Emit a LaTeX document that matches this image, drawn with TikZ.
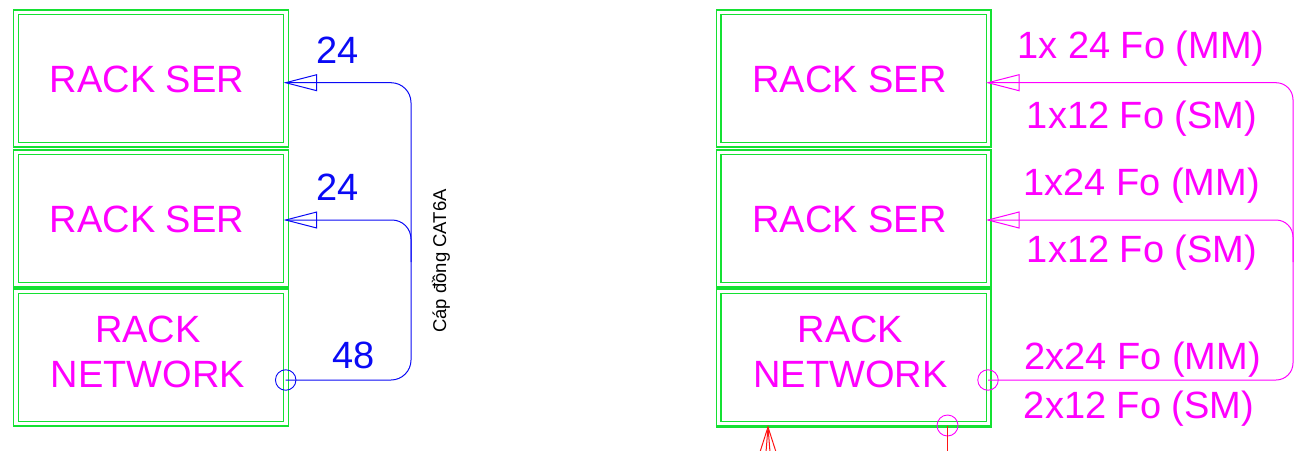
\documentclass[tikz,border=0pt]{standalone}
\usepackage{fontspec}
\setmainfont{Liberation Sans}
\usetikzlibrary{calc}
\definecolor{rackgreen}{RGB}{20,225,50}
\definecolor{cblue}{RGB}{10,10,245}
\definecolor{cmag}{RGB}{255,0,255}
\definecolor{cred}{RGB}{255,20,20}
\tikzset{
  rack/.style={draw=rackgreen, line width=1.4pt, double=white, double distance=3.2pt,
    minimum width=270pt, minimum height=132.4pt, inner sep=0pt},
  racktext/.style={text=cmag, font=\fontsize{38}{45}\selectfont, align=center, inner sep=0pt},
  bluelbl/.style={text=cblue, font=\fontsize{38}{45}\selectfont, inner sep=0pt, anchor=base},
  maglbl/.style={text=cmag, font=\fontsize{38}{45}\selectfont, inner sep=0pt, anchor=base},
  bluewire/.style={draw=cblue, line width=1pt},
  magwire/.style={draw=cmag, line width=1pt},
  endcirc/.style={circle, minimum size=20.5pt, inner sep=0pt, line width=0.9pt},
  redwire/.style={draw=cred, line width=1pt}
}
\begin{document}
\begin{tikzpicture}[x=1pt,y=-1pt]
\useasboundingbox (0,0) rectangle (1303,450);

% ---------- left column ----------
\node[rack] (L1) at (151,78.5) {};
\node[rack] (L2) at (151,218.5) {};
\node[rack] (L3) at (151,357.5) {};
\node[racktext] (tL1) at (147,79) {RACK SER};
\node[racktext] (tL2) at (147,219) {RACK SER};
\node[racktext] (tL3) at (148,351.5) {RACK\\NETWORK};

\coordinate (lt1) at ($(L1.east)+(-1,4.2)$);
\coordinate (lt2) at ($(L2.east)+(-1,1.5)$);
\node[endcirc, draw=cblue] (lc) at ($(L3.east)+(-1,22.5)$) {};
\coordinate (lbusB) at (411,380);
\coordinate (lbusM) at (411,262);

\draw[bluewire, rounded corners=20pt] (lt1) -| (lbusB) -- (lc.center);
\draw[bluewire, rounded corners=19pt] (lt2) -| (lbusM);
\draw[bluewire] (lt1) -- ++(31,-8) -- ++(0,16) -- cycle;
\draw[bluewire] (lt2) -- ++(31,-8) -- ++(0,16) -- cycle;

\node[bluelbl] (n24a) at (337.5,63) {24};
\node[bluelbl] (n24b) at (337.5,200) {24};
\node[bluelbl] (n48) at (354,368) {48};
\node[rotate=90, anchor=base, inner sep=0pt, font=\fontsize{18.5}{20}\selectfont] (cat) at (446,261) {Cáp đồng CAT6A};

% ---------- right column ----------
\node[rack] (R1) at (853.8,78.5) {};
\node[rack] (R2) at (853.8,218.5) {};
\node[rack] (R3) at (853.8,357.5) {};
\draw[rackgreen, line width=2.6pt] ($(R3.south west)+(-2.3,2.3)$) -- ($(R3.south east)+(2.3,2.3)$);
\node[racktext] (tR1) at (849.5,79) {RACK SER};
\node[racktext] (tR2) at (849.5,219) {RACK SER};
\node[racktext] (tR3) at (850.5,351.5) {RACK\\NETWORK};

\coordinate (rt1) at ($(R1.east)+(-1.5,4.2)$);
\coordinate (rt2) at ($(R2.east)+(-1.5,1.5)$);
\node[endcirc, draw=cmag] (rc) at ($(R3.east)+(-1.5,22.5)$) {};
\coordinate (rbusB) at (1293,380);
\coordinate (rbusM) at (1293,262);

\draw[magwire, rounded corners=17pt] (rt1) -| (rbusB) -- (rc.center);
\draw[magwire, rounded corners=17pt] (rt2) -| (rbusM);
\draw[magwire] (rt1) -- ++(31,-8) -- ++(0,16) -- cycle;
\draw[magwire] (rt2) -- ++(31,-8) -- ++(0,16) -- cycle;

\node[maglbl] (f1) at (1141,58) {1x 24 Fo (MM)};
\node[maglbl] (f2) at (1142,128) {1x12 Fo (SM)};
\node[maglbl] (f3) at (1141.5,195) {1x24 Fo (MM)};
\node[maglbl] (f4) at (1142,262) {1x12 Fo (SM)};
\node[maglbl] (f5) at (1142.5,369) {2x24 Fo (MM)};
\node[maglbl] (f6) at (1139,418) {2x12 Fo (SM)};

% ---------- bottom marks ----------
\coordinate (rapex) at (768,427);
\coordinate (re1) at (760,452);
\coordinate (re2) at (766,452);
\coordinate (re3) at (770,452);
\coordinate (re4) at (776,452);
\draw[redwire] (re1) -- (rapex) -- (re4);
\draw[redwire] (re2) -- (rapex) -- (re3);
\node[endcirc, draw=cmag, minimum size=21pt] (bc) at (947.5,425.5) {};
\coordinate (bcend) at (947.5,452);
\draw[redwire] (bc.center) -- (bcend);
\end{tikzpicture}
\end{document}
